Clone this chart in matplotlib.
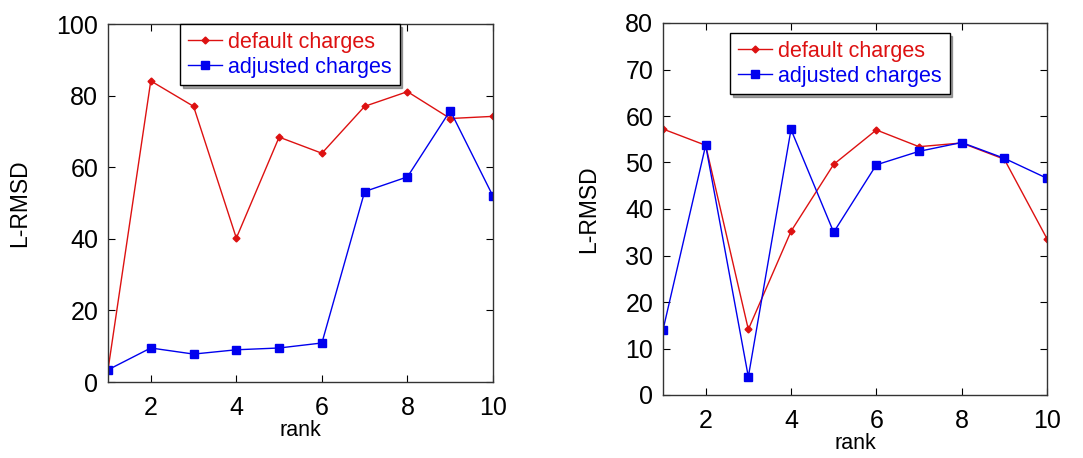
import matplotlib
matplotlib.use("Agg")
import matplotlib.pyplot as plt

rank = [1, 2, 3, 4, 5, 6, 7, 8, 9, 10]
left_default = [3.4, 84.1, 77.0, 40.2, 68.4, 63.9, 77.0, 81.1, 73.6, 74.2]
left_adjusted = [3.4, 9.5, 7.8, 9.0, 9.5, 10.9, 53.2, 57.3, 75.8, 51.9]
right_default = [57.2, 53.7, 14.1, 35.2, 49.6, 57.0, 53.4, 54.2, 50.7, 33.6]
right_adjusted = [14.0, 53.7, 3.9, 57.1, 35.0, 49.5, 52.4, 54.3, 50.9, 46.6]
x_ticks = [2, 4, 6, 8, 10]
left_yticks = [0, 20, 40, 60, 80, 100]
right_yticks = [0, 10, 20, 30, 40, 50, 60, 70, 80]

plt.rcParams['font.family'] = ['Liberation Sans', 'DejaVu Sans']

W, H = 1083, 458
fig = plt.figure(figsize=(W / 100, H / 100), dpi=100)

def make_ax(l, r, t, b):
    return fig.add_axes([l / W, 1 - b / H, (r - l) / W, (b - t) / H])

ax1 = make_ax(108, 493, 24, 382)
ax2 = make_ax(663, 1047, 23, 395)

def style(ax, d, a, yticks, ylim, legend_bbox):
    ax.plot(rank, d, color='#dd1111', lw=1.0, marker='D', ms=3.5,
            label='default charges')
    ax.plot(rank, a, color='#0000ee', lw=1.0, marker='s', ms=6,
            label='adjusted charges')
    ax.set_xlim(1, 10)
    ax.set_ylim(*ylim)
    ax.set_xticks(x_ticks)
    ax.set_yticks(yticks)
    ax.tick_params(direction='in', top=True, right=True, labelsize=18,
                   length=5, width=0.8)
    ax.tick_params(axis='x', pad=10)
    ax.tick_params(axis='y', pad=7)
    for s in ax.spines.values():
        s.set_linewidth(1.0)
        s.set_color('#333333')
    ax.set_xlabel('rank', fontsize=15.5, labelpad=0)
    ax.set_ylabel('L-RMSD', fontsize=16.5, labelpad=18)
    leg = ax.legend(loc='upper left', bbox_to_anchor=legend_bbox,
                    fontsize=15.5, frameon=True, fancybox=False, shadow=True,
                    handlelength=1.6, handletextpad=0.3, borderpad=0.35,
                    labelspacing=0.2, borderaxespad=0)
    leg.get_frame().set_edgecolor('black')
    leg.get_frame().set_linewidth(1.0)
    for txt, c in zip(leg.get_texts(), ['#dd1111', '#0000ee']):
        txt.set_color(c)

style(ax1, left_default, left_adjusted, left_yticks, (0, 100),
      ((180 - 108) / (493 - 108), 1.0))
style(ax2, right_default, right_adjusted, right_yticks, (0, 80),
      ((730 - 663) / (1047 - 663), 1 - (33 - 23) / (395 - 23)))

fig.savefig('out.png', dpi=100)
